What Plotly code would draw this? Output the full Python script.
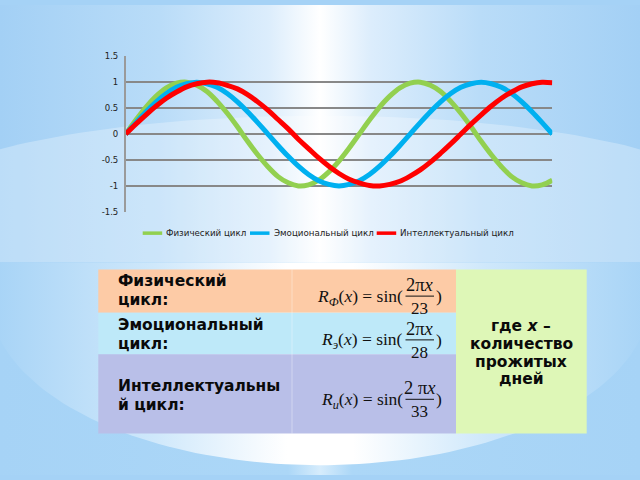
import numpy as np
import plotly.graph_objects as go

# days (category axis) and values
days = [0, 1, 2, 3, 4, 5, 6, 7, 8, 9, 10, 11, 12, 13, 14, 15, 16, 17, 18, 19, 20,
        21, 22, 23, 24, 25, 26, 27, 28, 29, 30, 31, 32, 33, 34, 35, 36, 37, 38, 39,
        40, 41, 42]
physical = [0, 0.27, 0.52, 0.73, 0.89, 0.98, 1.00, 0.94, 0.82, 0.63, 0.40, 0.14,
            -0.14, -0.40, -0.63, -0.82, -0.94, -1.00, -0.98, -0.89, -0.73, -0.52,
            -0.27, 0, 0.27, 0.52, 0.73, 0.89, 0.98, 1.00, 0.94, 0.82, 0.63, 0.40,
            0.14, -0.14, -0.40, -0.63, -0.82, -0.94, -1.00, -0.98, -0.89]
emotional = [0, 0.22, 0.43, 0.62, 0.78, 0.90, 0.97, 1.00, 0.97, 0.90, 0.78, 0.62,
             0.43, 0.22, 0, -0.22, -0.43, -0.62, -0.78, -0.90, -0.97, -1.00, -0.97,
             -0.90, -0.78, -0.62, -0.43, -0.22, 0, 0.22, 0.43, 0.62, 0.78, 0.90,
             0.97, 1.00, 0.97, 0.90, 0.78, 0.62, 0.43, 0.22, 0]
intellectual = [0, 0.19, 0.37, 0.54, 0.69, 0.81, 0.91, 0.97, 1.00, 0.99, 0.94, 0.87,
                0.76, 0.62, 0.46, 0.28, 0.10, -0.10, -0.28, -0.46, -0.62, -0.76,
                -0.87, -0.94, -0.99, -1.00, -0.97, -0.91, -0.81, -0.69, -0.54, -0.37,
                -0.19, 0, 0.19, 0.37, 0.54, 0.69, 0.81, 0.91, 0.97, 1.00, 0.99]
series_names = ["Физический цикл", "Эмоциональный цикл", "Интеллектуальный цикл"]
series_colors = ["#92D050", "#00B0F0", "#FF0000"]

y_tickvals = [-1.5, -1, -0.5, 0, 0.5, 1, 1.5]
y_ticktext = ["-1.5", "-1", "-0.5", "0", "0.5", "1", "1.5"]

# table text
row_labels = [["Физический", "цикл:"], ["Эмоциональный", "цикл:"],
              ["Интеллектуальны", "й цикл:"]]
row_subscripts = ["Ф", "э", "и"]
row_numerators = ["2π<i>x</i>", "2π<i>x</i>", "2 π<i>x</i>"]
row_periods = ["23", "28", "33"]
note_lines = ["<b>где <i>x</i> –</b>", "<b>количество</b>", "<b>прожитых</b>", "<b>дней</b>"]

W, H = 640, 480
fig = go.Figure()


def bg_shape(xs, ys, **kw):
    fig.add_trace(go.Scatter(x=xs, y=ys, mode="lines", fill="toself",
                             line=dict(width=0), hoverinfo="skip",
                             showlegend=False, xaxis="x", yaxis="y", **kw))


def ellipse(cx, cy, a, b, ymin=None, ymax=None):
    t = np.linspace(0, 2 * np.pi, 200)
    xs = cx + a * np.cos(t)
    ys = cy + b * np.sin(t)
    if ymin is not None:
        ys = np.maximum(ys, ymin)
    if ymax is not None:
        ys = np.minimum(ys, ymax)
    return xs, ys


# slide background
bg_shape([0, W, W, 0, 0], [0, 0, H, H, 0],
         fillgradient=dict(type="horizontal", colorscale=[
             [0, "#a3d0f5"], [0.25, "#b9dcf8"], [0.42, "#dcedfc"], [0.5, "#ffffff"],
             [0.58, "#dcedfc"], [0.75, "#b9dcf8"], [1, "#a3d0f5"]]))
ex, ey = ellipse(320, 210, 420, 97, ymax=263)
bg_shape(ex, ey, fillcolor="rgba(255,255,255,0.28)")
bg_shape([0, W, W, 0, 0], [263, 263, H, H, 263],
         fillgradient=dict(type="horizontal", colorscale=[
             [0, "#a6d3f6"], [0.45, "#acd7f7"], [0.5, "#d6ecfc"],
             [0.55, "#acd7f7"], [1, "#a6d3f6"]]))
ex, ey = ellipse(320, 300, 330, 170, ymin=263)
bg_shape(ex, ey, fillgradient=dict(type="horizontal", colorscale=[
    [0, "#a6d3f6"], [0.25, "#cfe8fb"], [0.45, "#ffffff"], [0.55, "#ffffff"],
    [0.75, "#cfe8fb"], [1, "#a6d3f6"]]))

# chart
for name, vals, col in zip(series_names, [physical, emotional, intellectual], series_colors):
    fig.add_trace(go.Scatter(x=days, y=vals, name=name, mode="lines",
                             line=dict(color=col, width=5, shape="spline"),
                             xaxis="x2", yaxis="y2", showlegend=False))

shapes = []
annotations = []

# compact legend below the chart (short swatches like the original)
legend_swatch_x = [142.7, 250, 376.7]
legend_y = 233
for name, col, sx in zip(series_names, series_colors, legend_swatch_x):
    shapes.append(dict(type="line", xref="x", yref="y", x0=sx, x1=sx + 19.5,
                       y0=legend_y, y1=legend_y, line=dict(color=col, width=3.5),
                       layer="above"))
    annotations.append(dict(x=sx + 21.5, y=legend_y, xref="x", yref="y", text=name,
                            xanchor="left", yanchor="middle", showarrow=False,
                            font=dict(family="DejaVu Sans", size=8.7, color="#222")))

# table
row_tops = [270, 314.3, 356.7]
row_bottoms = [314.3, 356.7, 437.7]
row_fills = ["#FDCBA6", "#BEE9F9", "#B9BFE8"]
for top, bot, fill in zip(row_tops, row_bottoms, row_fills):
    shapes.append(dict(type="rect", xref="x", yref="y", x0=98.3, x1=456, y0=top, y1=bot,
                       fillcolor=fill, line=dict(width=0), layer="above"))
shapes.append(dict(type="rect", xref="x", yref="y", x0=456, x1=586.7, y0=270, y1=437.7,
                   fillcolor="#DEF7B7", line=dict(width=0), layer="above"))
shapes.append(dict(type="line", xref="x", yref="y", x0=292, x1=292, y0=270, y1=437.7,
                   line=dict(color="rgba(255,255,255,0.35)", width=1), layer="above"))

label_y = [[282.3, 301.7], [326.7, 346], [389, 408.3]]
bar_y = [297.3, 342, 402.7]
label_font = dict(family="DejaVu Sans", size=15.5, color="#0a0a0a")
main_font = dict(family="Liberation Serif", size=17.5, color="#111")
num_font = dict(family="Liberation Serif", size=18.5, color="#111")
den_font = dict(family="Liberation Serif", size=17, color="#111")
for i in range(3):
    for txt, yy in zip(row_labels[i], label_y[i]):
        annotations.append(dict(x=115.7, y=yy, xref="x", yref="y", text="<b>" + txt + "</b>",
                                xanchor="left", yanchor="middle", showarrow=False,
                                font=label_font))
    b = bar_y[i]
    annotations.append(dict(x=404.5, y=b + 1, xref="x", yref="y",
                            text="<i>R</i><sub><i>" + row_subscripts[i] + "</i></sub>(<i>x</i>) = sin(",
                            xanchor="right", yanchor="middle", showarrow=False, font=main_font))
    annotations.append(dict(x=420, y=b - 11.5, xref="x", yref="y", text=row_numerators[i],
                            xanchor="center", yanchor="middle", showarrow=False, font=num_font))
    annotations.append(dict(x=419, y=b + 12.4, xref="x", yref="y", text=row_periods[i],
                            xanchor="center", yanchor="middle", showarrow=False, font=den_font))
    annotations.append(dict(x=433.5, y=b, xref="x", yref="y", text=")",
                            xanchor="left", yanchor="middle", showarrow=False, font=main_font))
    shapes.append(dict(type="line", xref="x", yref="y", x0=405.5, x1=434, y0=b, y1=b,
                       line=dict(color="#111", width=1), layer="above"))

for txt, yy in zip(note_lines, [327.7, 346, 364.3, 382.3]):
    annotations.append(dict(x=521.3, y=yy, xref="x", yref="y", text=txt,
                            xanchor="center", yanchor="middle", showarrow=False,
                            font=label_font))

fig.update_layout(
    width=W, height=H,
    margin=dict(l=0, r=0, t=0, b=0),
    paper_bgcolor="#a5d2f6",
    plot_bgcolor="rgba(0,0,0,0)",
    showlegend=False,
    xaxis=dict(domain=[0, 1], range=[0, W], visible=False, fixedrange=True),
    yaxis=dict(domain=[0, 1], range=[H, 0], visible=False, fixedrange=True),
    xaxis2=dict(domain=[125.7 / W, 552.3 / W], range=[0, 42], anchor="y2",
                showticklabels=False, showgrid=False, zeroline=False, showline=False),
    yaxis2=dict(domain=[1 - 211.3 / H, 1 - 52.3 / H], range=[-1.5, 1.5], anchor="x2",
                tickvals=y_tickvals, ticktext=y_ticktext,
                showgrid=True, gridcolor="#888888", gridwidth=2.2,
                zeroline=False, showline=True, linecolor="#9a9a9a", linewidth=1.5,
                ticks="", ticklabelstandoff=4,
                tickfont=dict(family="DejaVu Sans", size=8.5, color="#222")),
    shapes=shapes,
    annotations=annotations,
)

fig.write_html("out.html", config={"displayModeBar": False},
               post_script="document.body.style.margin='0';document.body.style.overflow='hidden';")
